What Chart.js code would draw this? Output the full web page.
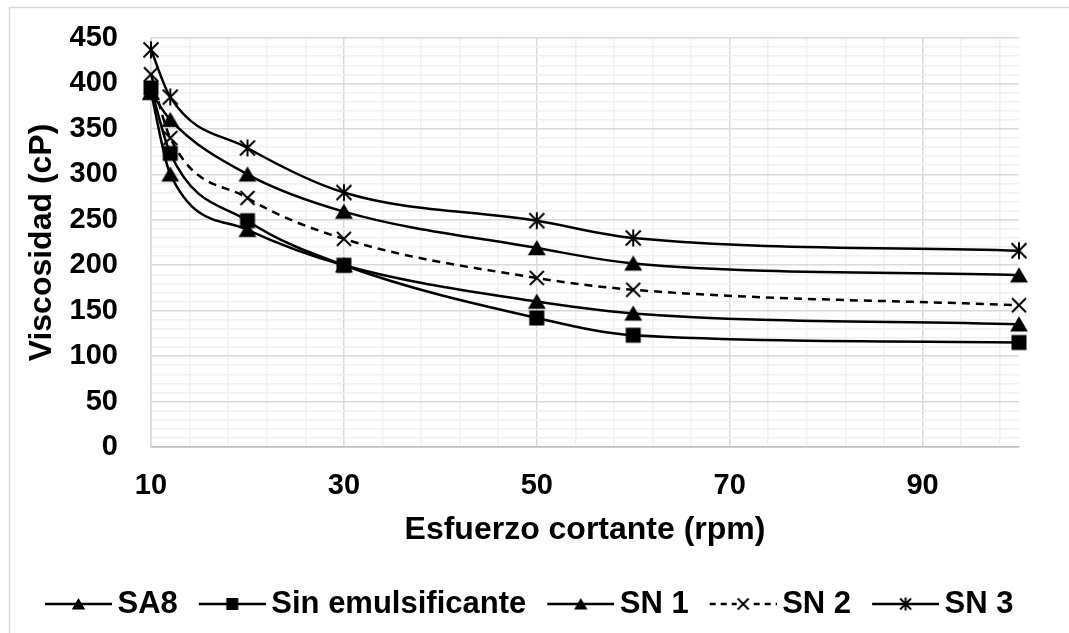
<!DOCTYPE html>
<html><head><meta charset="utf-8">
<script src="https://cdn.jsdelivr.net/npm/chart.js@4.4.0/dist/chart.umd.min.js"></script>
<style>html,body{margin:0;padding:0;background:#fff;overflow:hidden}#wrap{position:relative;width:1069px;height:633px}</style>
</head><body><div id="wrap"><canvas id="c" width="1069" height="633"></canvas></div>
<script>
// ---- data ----
const rpm = [10, 12, 20, 30, 50, 60, 100];
const seriesNames = ['SA8', 'Sin emulsificante', 'SN 1', 'SN 2', 'SN 3'];
const sa8 = [390, 300, 239, 200, 160, 147, 135];
const sinEmulsificante = [395, 323, 249, 200, 142, 123, 115];
const sn1 = [390, 360, 300, 259, 219, 202, 189];
const sn2 = [410, 340, 274, 229, 186, 173, 156];
const sn3 = [437, 385, 329, 280, 249, 230, 216];
const xTickLabels = [10, 30, 50, 70, 90];
const yTickLabels = [0, 50, 100, 150, 200, 250, 300, 350, 400, 450];
const xTitle = 'Esfuerzo cortante (rpm)';
const yTitle = 'Viscosidad (cP)';

const FONT = "'Liberation Sans', Arial, sans-serif";

function drawShape(ctx, kind, cx, cy, s) {
  ctx.fillStyle = '#000'; ctx.strokeStyle = '#000'; ctx.setLineDash([]);
  if (kind === 'tri') {
    ctx.beginPath();
    ctx.moveTo(cx, cy - s * 0.5);
    ctx.lineTo(cx + s * 0.56, cy + s * 0.45);
    ctx.lineTo(cx - s * 0.56, cy + s * 0.45);
    ctx.closePath(); ctx.fill();
  } else if (kind === 'sq') {
    ctx.fillRect(cx - s / 2, cy - s / 2, s, s);
  } else if (kind === 'x' || kind === 'ast') {
    ctx.lineWidth = 2;
    const h = s / 2;
    ctx.beginPath();
    ctx.moveTo(cx - h, cy - h); ctx.lineTo(cx + h, cy + h);
    ctx.moveTo(cx + h, cy - h); ctx.lineTo(cx - h, cy + h);
    if (kind === 'ast') { ctx.moveTo(cx, cy - h - 1); ctx.lineTo(cx, cy + h + 1); }
    ctx.stroke();
  }
}
function pointImg(kind, s) {
  const c = document.createElement('canvas'); c.width = 22; c.height = 22;
  drawShape(c.getContext('2d'), kind, 11, 11, s);
  return c;
}
function legendImg(kind, s, dashed) {
  const c = document.createElement('canvas'); c.width = 88; c.height = 20;
  const g = c.getContext('2d');
  g.strokeStyle = '#000'; g.lineWidth = 2.5;
  if (dashed) g.setLineDash([6, 5]);
  g.beginPath(); g.moveTo(21, 10); g.lineTo(88, 10); g.stroke();
  if (dashed) { g.fillStyle = '#fff'; g.fillRect(48, 3, 13, 14); }
  drawShape(g, kind, 54.5, 10, s);
  return c;
}

const kinds = ['tri', 'sq', 'tri', 'x', 'ast'];
const sizes = [16, 15, 16, 14, 15];
const lsizes = [12, 12, 12, 11, 11];
const values = [sa8, sinEmulsificante, sn1, sn2, sn3];
const dashes = [false, false, false, true, false];

const datasets = values.map((vals, i) => ({
  label: seriesNames[i],
  data: rpm.map((x, j) => ({ x: x, y: vals[j] })),
  borderColor: '#000',
  backgroundColor: '#000',
  borderWidth: 2.5,
  borderDash: dashes[i] ? [8, 6] : [],
  cubicInterpolationMode: 'monotone',
  pointStyle: pointImg(kinds[i], sizes[i]),
  pointRadius: 8,
  clip: false
}));
const legendImages = kinds.map((k, i) => legendImg(k, lsizes[i], dashes[i]));

const frame = {
  id: 'frame',
  beforeDraw(chart) {
    const ctx = chart.ctx;
    ctx.save();
    ctx.fillStyle = '#fff'; ctx.fillRect(0, 0, chart.width, chart.height);
    ctx.strokeStyle = '#d9d9d9'; ctx.lineWidth = 1.5;
    ctx.beginPath(); ctx.moveTo(9.5, 640); ctx.lineTo(9.5, 7.5); ctx.lineTo(1080, 7.5); ctx.stroke();
    ctx.restore();
  }
};

new Chart(document.getElementById('c'), {
  type: 'line',
  data: { datasets },
  plugins: [frame],
  options: {
    responsive: false,
    animation: false,
    layout: { padding: { left: 16, right: 37.5, top: 38, bottom: 3.5 } },
    plugins: {
      tooltip: { enabled: false },
      legend: {
        position: 'bottom',
        align: 'center',
        labels: {
          usePointStyle: true,
          pointStyleWidth: 68,
          padding: 10,
          color: '#000',
          font: { family: FONT, size: 31, weight: 'bold' },
          generateLabels: (chart) => chart.data.datasets.map((d, i) => ({
            text: d.label, pointStyle: legendImages[i], datasetIndex: i, hidden: false,
            fillStyle: '#000', strokeStyle: '#000', lineWidth: 0, fontColor: '#000'
          }))
        }
      }
    },
    scales: {
      x: {
        type: 'linear', min: 10, max: 100,
        afterBuildTicks: (s) => { const t = []; for (let v = 10; v < 100; v += 4) t.push({ value: v }); s.ticks = t; },
        afterFit: (s) => { s.height = 131.5; },
        ticks: {
          autoSkip: false, maxRotation: 0, padding: 2, color: '#000',
          font: { family: FONT, size: 29, weight: 'bold' },
          callback: (v) => xTickLabels.includes(v) ? String(v) : ''
        },
        grid: {
          drawTicks: true, tickLength: 20, tickColor: 'rgba(0,0,0,0)',
          color: (c) => (c.tick && xTickLabels.includes(c.tick.value)) ? '#d9d9d9' : '#f0f0f0',
          lineWidth: 1.5
        },
        border: { color: '#bfbfbf', width: 1.5 },
        title: { display: true, text: xTitle, color: '#000', font: { family: FONT, size: 32, weight: 'bold' }, padding: { top: 0, bottom: 29.3 } }
      },
      y: {
        type: 'linear', min: 0, max: 450,
        afterBuildTicks: (s) => { const t = []; for (let v = 0; v <= 450; v += 10) t.push({ value: v }); s.ticks = t; },
        afterFit: (s) => { s.width = 135; },
        ticks: {
          autoSkip: false, padding: 3, color: '#000',
          font: { family: FONT, size: 29, weight: 'bold' },
          callback: (v) => yTickLabels.includes(v) ? String(v) : ''
        },
        grid: {
          drawTicks: true, tickLength: 30, tickColor: 'rgba(0,0,0,0)',
          color: (c) => (c.tick && c.tick.value === 0) ? '#bfbfbf' : ((c.tick && yTickLabels.includes(c.tick.value)) ? '#d9d9d9' : '#f0f0f0'),
          lineWidth: 1.5
        },
        border: { color: '#d9d9d9', width: 1.5 },
        title: { display: true, text: yTitle, color: '#000', font: { family: FONT, size: 32, weight: 'bold' }, padding: { top: 6.8, bottom: 0 } }
      },
      yRight: {
        type: 'linear', position: 'right', display: true,
        afterFit: (s) => { s.width = 12.5; },
        grid: { display: false, drawTicks: false },
        border: { display: false },
        ticks: { display: false }
      }
    }
  }
});
</script></body></html>
